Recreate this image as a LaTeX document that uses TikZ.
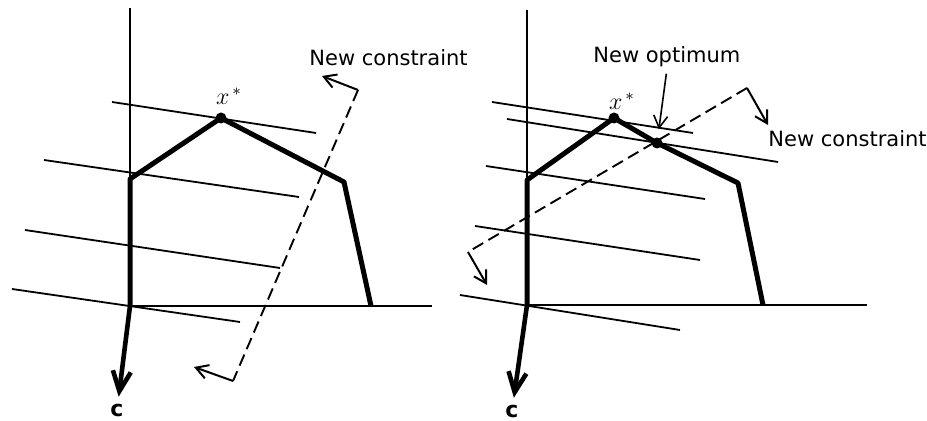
\documentclass[tikz,border=0pt]{standalone}
\usepackage{fontspec}
\setsansfont{DejaVu Sans}
\usetikzlibrary{arrows.meta}

\begin{document}
\begin{tikzpicture}[x=0.5pt, y=-0.5pt,
  axis/.style={line width=1.2pt},
  feas/.style={line width=2.5pt, line join=round},
  obj/.style={line width=0.9pt},
  cut/.style={line width=0.95pt, dash pattern=on 6pt off 3pt},
  tick/.style={line width=1pt, -{Straight Barb[length=6pt, width=7pt]}},
  cvec/.style={line width=2.3pt, -{Straight Barb[length=10pt, width=9pt]}},
  pt/.style={circle, fill, inner sep=0pt, minimum size=5.5pt},
  lab/.style={font=\sffamily\fontsize{10.5}{12}\selectfont, inner sep=1pt},
  vlab/.style={font=\sffamily\bfseries\fontsize{11}{13}\selectfont, inner sep=0.3pt},
  opt/.style={font=\fontsize{12}{14}\selectfont, inner sep=1pt}]
\useasboundingbox (0,0) rectangle (927,421);

% left: the old optimum and the cut
\coordinate (o1) at (130,306);
\coordinate (v1) at (130,8);
\coordinate (h1) at (432,306);
\coordinate (a1) at (130,179);
\node[pt] (xs1) at (221,118) {};
\coordinate (b1) at (344,182);
\coordinate (e1) at (371,306);
\draw[axis] (v1) -- (o1) -- (h1);
\draw[feas] (o1) -- (a1) -- (xs1.center) -- (b1) -- (e1);
\draw[obj] (112,102) -- (316,133);
\draw[obj] (44,160) -- (299,197);
\draw[obj] (25,230) -- (280,268);
\draw[obj] (12,289) -- (240,322);
\node[opt] (xl1) at (229,96) {$x^{\,*}$};
\node[vlab] (c1) at (117,410) {c};
\draw[cvec, shorten >=3pt] (o1) -- (c1);
\coordinate (k1) at (358,90);
\coordinate (k2) at (233,381);
\coordinate (t1) at (322,76);
\coordinate (t2) at (194,367);
\draw[cut] (k1) -- (k2);
\draw[tick] (k1) -- (t1);
\draw[tick] (k2) -- (t2);
\node[lab, anchor=base west] (nc1) at (307,66) {New constraint};

% right: the new optimum
\coordinate (o2) at (527,305);
\coordinate (v2) at (527,10);
\coordinate (h2) at (867,305);
\coordinate (a2) at (527,180);
\node[pt] (xs2) at (614,118) {};
\node[pt] (xn2) at (657,143) {};
\coordinate (b2) at (738,183);
\coordinate (e2) at (763,305);
\draw[axis] (v2) -- (o2) -- (h2);
\draw[feas] (o2) -- (a2) -- (xs2.center) -- (xn2.center) -- (b2) -- (e2);
\draw[obj] (492,102) -- (693,133);
\draw[obj] (507,119) -- (778,162);
\draw[obj] (486,166) -- (705,199);
\draw[obj] (475,226) -- (700,260);
\draw[obj] (460,295) -- (680,330);
\node[opt] (xl2) at (622,101) {$x^{\,*}$};
\node[vlab] (c2) at (512,411) {c};
\draw[cvec, shorten >=3pt] (o2) -- (c2);
\coordinate (k3) at (747,88);
\coordinate (k4) at (468,252);
\coordinate (t3) at (768,125);
\coordinate (t4) at (487,285);
\draw[cut] (k3) -- (k4);
\draw[tick] (k3) -- (t3);
\draw[tick] (k4) -- (t4);
\node[lab, anchor=base west] (nc2) at (766,147) {New constraint};
\node[lab, anchor=base west] (nopt) at (591,63) {New optimum};
\draw[tick, line width=0.8pt, shorten <=2pt, shorten >=4pt] (nopt.south) -- (xn2);
\end{tikzpicture}
\end{document}
